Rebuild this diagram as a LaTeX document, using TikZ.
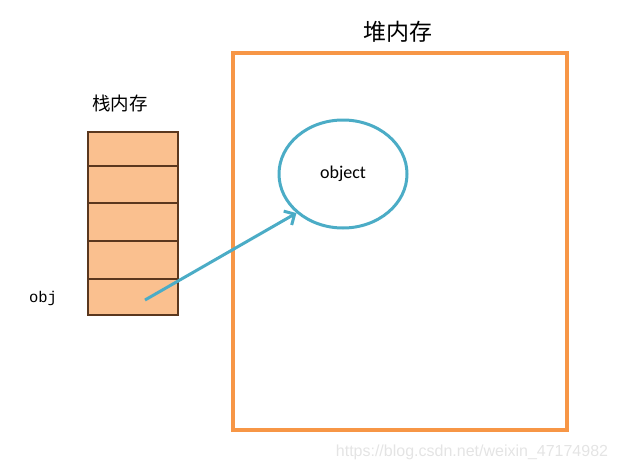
\documentclass[tikz,border=0pt]{standalone}
\usepackage{fontspec}
\setmainfont{Carlito}
\newfontfamily\cjk{Noto Sans CJK SC}
\newfontfamily\monofnt{Liberation Mono}
\newfontfamily\markfnt{Liberation Sans}
\usetikzlibrary{arrows.meta,shapes.geometric}
\definecolor{stackfill}{RGB}{250,192,143}
\definecolor{stackline}{RGB}{90,55,30}
\definecolor{heapline}{RGB}{247,150,70}
\definecolor{objline}{RGB}{75,172,198}
\definecolor{markgray}{RGB}{228,228,228}
\tikzset{
  cell/.style={draw=stackline,line width=1.2pt,fill=stackfill},
  ptr/.style={draw=objline,line width=3pt,-{Straight Barb[length=8pt,width=16pt]}}
}
\begin{document}
\begin{tikzpicture}[x=1pt,y=-1pt]
\useasboundingbox (0,0) rectangle (618,471);
% stack
\node (stacklbl) at (120,103) {\fontsize{18.5}{20}\selectfont\cjk 栈内存};
\draw [cell] (88,132) rectangle (178,166);
\draw [cell] (88,166) rectangle (178,203);
\draw [cell] (88,203) rectangle (178,241);
\draw [cell] (88,241) rectangle (178,279);
\draw [cell] (88,279) rectangle (178,315);
\node (objlbl) at (43,298) {\fontsize{15.5}{17}\selectfont\monofnt obj};
\coordinate (objptr) at (145,300);
% heap
\node (heaplbl) at (398,32) {\fontsize{23}{25}\selectfont\cjk 堆内存};
\draw [heapline,line width=3.5pt] (233,53) rectangle (567,430);
\node [draw=objline,line width=3pt,ellipse,minimum width=128,minimum height=108,inner sep=0pt]
  (object) at (343,174) {\fontsize{18}{20}\selectfont object};
\draw [ptr] (objptr) -- (object.220);
\node (mark) at (472,452) {\fontsize{16}{18}\selectfont\markfnt\color{markgray}https://blog.csdn.net/weixin\_47174982};
\end{tikzpicture}
\end{document}
